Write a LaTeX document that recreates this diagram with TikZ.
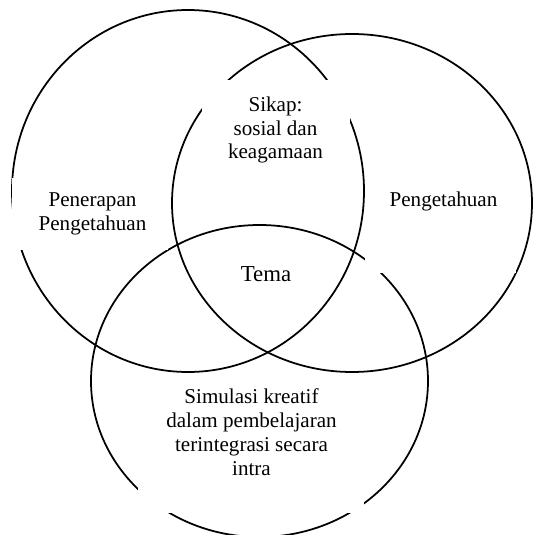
\documentclass[tikz,border=0pt]{standalone}
\usepackage{fontspec}
\setmainfont{Liberation Serif}
\usepackage{tikz}

\begin{document}
\begin{tikzpicture}[
    lingkaran/.style={line width=1pt},
    tutup/.style={fill=white},
    teks/.style={align=center, font=\fontsize{12}{13.6}\selectfont}
  ]
  \useasboundingbox (0,0) rectangle (10.66,10.70);
  % tiga lingkaran
  \draw[lingkaran] (3.76,6.88) ellipse (3.52 and 3.62);
  \draw[lingkaran] (7.04,6.64) ellipse (3.60 and 3.38);
  \draw[lingkaran] (5.19,3.08) ellipse (3.37 and 3.12);
  % kotak teks (putih, menutup garis)
  \fill[tutup] (4.04,7.10) rectangle (7.00,9.10);
  \fill[tutup] (0.24,5.70) rectangle (3.36,7.14);
  \fill[tutup] (7.30,5.24) rectangle (10.32,7.30);
  \fill[tutup] (2.76,0.44) rectangle (7.28,3.00);
  % label
  \node[teks] (sikap) at (5.51,8.10) {Sikap:\\sosial dan\\keagamaan};
  \node[teks] (penerapan) at (1.85,6.42) {Penerapan\\Pengetahuan};
  \node[teks, anchor=base] (pengetahuan) at (8.87,6.56) {Pengetahuan};
  \node[teks, anchor=base, font=\fontsize{13}{15}\selectfont] (tema) at (5.32,5.06) {Tema};
  \node[teks] (simulasi) at (5.03,2.06) {Simulasi kreatif\\dalam pembelajaran\\terintegrasi secara\\intra};
\end{tikzpicture}
\end{document}
